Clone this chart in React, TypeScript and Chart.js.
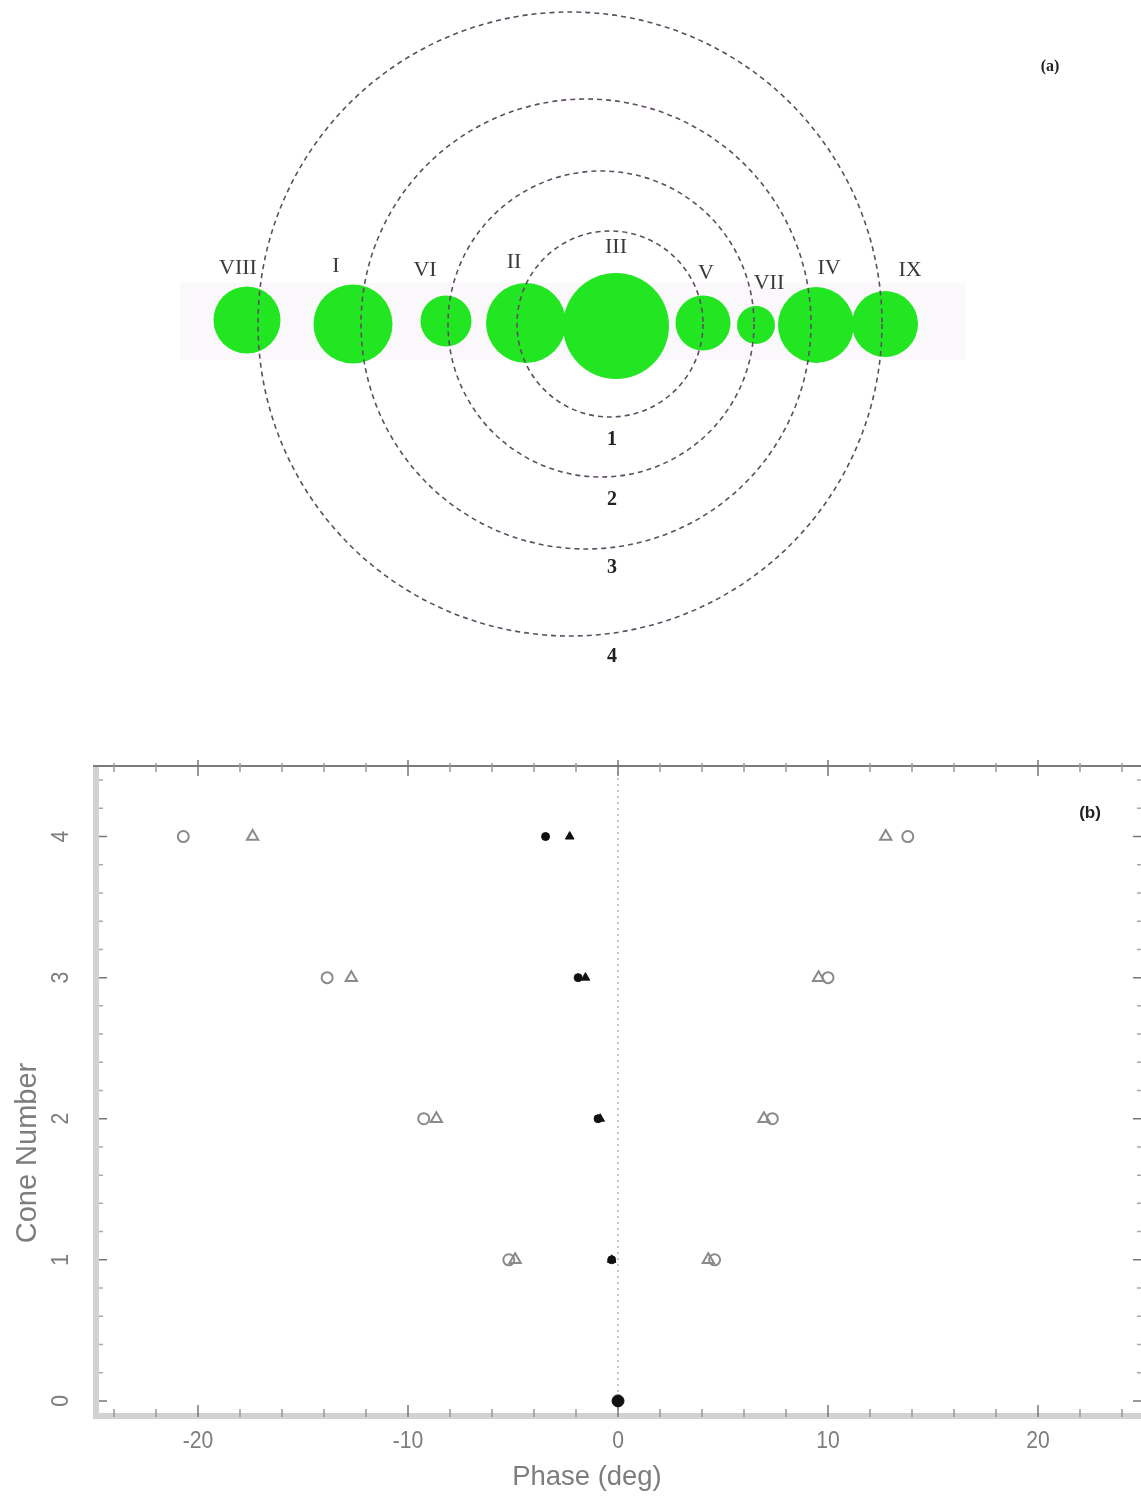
import React, { useEffect, useRef } from "react";
import { Chart, registerables } from "chart.js";

Chart.register(...registerables);

// ---------------- Panel (a): emission components and nested cones ----------------
// diagram units, origin at the core component
const componentNames = ["VIII", "I", "VI", "II", "III", "V", "VII", "IV", "IX"];
const componentPos = [-36.7, -26.1, -16.8, -8.8, 0.2, 8.9, 14.2, 20.2, 27.1];
const componentLevel = [0.4, 0.0, 0.3, 0.1, -0.2, 0.1, -0.1, -0.1, 0.0];
const componentSize = [3.35, 3.95, 2.55, 4.0, 5.3, 2.75, 1.9, 3.8, 3.3];
const componentLabelX = [-37.6, -27.8, -18.9, -10.0, 0.2, 9.2, 15.5, 21.5, 29.6];
const componentLabelY = [5.6, 5.8, 5.4, 6.2, 7.7, 5.1, 4.1, 5.6, 5.4];

const coneNames = ["1", "2", "3", "4"];
const coneCenter = [-0.4, -1.3, -2.8, -4.4];
const coneRadius = [9.3, 15.3, 22.5, 31.2];
const coneLabelX = [-0.2, -0.2, -0.2, -0.2];
const coneLabelY = [-11.6, -17.6, -24.4, -33.3];

const bandX = [-43.4, 35.1];
const bandY = [4.1, -3.6];

const A_XMIN = -61.4;
const A_XMAX = 52.7;
const A_YMIN = -37.6;
const A_YMAX = 32.4;
const A_W = 1141;
const A_H = 700;

// ---------------- Panel (b): phase vs cone number ----------------
const coneNumbers = [1, 2, 3, 4];
const leadCircle = [-5.2, -9.25, -13.85, -20.7];
const leadTriangle = [-4.9, -8.65, -12.7, -17.4];
const trailTriangle = [4.3, 6.95, 9.55, 12.75];
const trailCircle = [4.6, 7.35, 10.0, 13.8];
const midCircle = [-0.3, -0.95, -1.9, -3.45];
const midTriangle = [-0.3, -0.85, -1.55, -2.3];
const corePhase = [0];
const coreCone = [0];

const xTickValues = [-20, -10, 0, 10, 20];
const xTickLabels = ["-20", "-10", "0", "10", "20"];
const yTickValues = [0, 1, 2, 3, 4];
const yTickLabels = ["0", "1", "2", "3", "4"];

const SANS = "'Liberation Sans', 'DejaVu Sans', sans-serif";
const SERIF = "'Liberation Serif', 'DejaVu Serif', serif";

function drawText(
  ctx: CanvasRenderingContext2D,
  text: string,
  x: number,
  y: number,
  font: string,
  color: string,
  rot = 0,
  sx = 1
) {
  ctx.save();
  ctx.translate(x, y);
  if (rot) ctx.rotate(rot);
  ctx.scale(sx, 1);
  ctx.font = font;
  ctx.fillStyle = color;
  ctx.textAlign = "center";
  ctx.textBaseline = "middle";
  ctx.fillText(text, 0, 0);
  ctx.restore();
}

const panelAPlugin = {
  id: "panelA",
  beforeDatasetsDraw(chart: any) {
    const { ctx, scales } = chart;
    const x = scales.x, y = scales.y;
    ctx.save();
    ctx.fillStyle = "rgba(246,240,246,0.45)";
    const x0 = x.getPixelForValue(bandX[0]);
    const x1 = x.getPixelForValue(bandX[1]);
    const y0 = y.getPixelForValue(bandY[0]);
    const y1 = y.getPixelForValue(bandY[1]);
    ctx.fillRect(x0, y0, x1 - x0, y1 - y0);
    ctx.restore();
  },
  afterDatasetsDraw(chart: any) {
    const { ctx, scales } = chart;
    const x = scales.x, y = scales.y;
    ctx.save();
    ctx.setLineDash([5, 4]);
    ctx.strokeStyle = "#5e4e62";
    ctx.lineWidth = 1.6;
    coneRadius.forEach((r, i) => {
      const cx = x.getPixelForValue(coneCenter[i]);
      const cy = y.getPixelForValue(0);
      const rp = x.getPixelForValue(coneCenter[i] + r) - cx;
      ctx.beginPath();
      ctx.arc(cx, cy, rp, 0, Math.PI * 2);
      ctx.stroke();
    });
    ctx.restore();
    componentNames.forEach((n, i) => {
      drawText(
        ctx,
        n,
        x.getPixelForValue(componentLabelX[i]),
        y.getPixelForValue(componentLabelY[i]),
        `22px ${SERIF}`,
        "#3a3a3a"
      );
    });
    coneNames.forEach((n, i) => {
      drawText(
        ctx,
        n,
        x.getPixelForValue(coneLabelX[i]),
        y.getPixelForValue(coneLabelY[i]),
        `bold 20px ${SERIF}`,
        "#222"
      );
    });
    drawText(ctx, "(a)", 1050, 67, `bold 16px ${SERIF}`, "#222");
  },
};

const panelBPlugin = {
  id: "panelB",
  beforeDatasetsDraw(chart: any) {
    const { ctx, chartArea, scales } = chart;
    const x = scales.x, y = scales.y;
    const { left, right, top, bottom } = chartArea;
    ctx.save();
    ctx.setLineDash([2, 4]);
    ctx.strokeStyle = "#b5b5b5";
    ctx.lineWidth = 1.5;
    const x0 = x.getPixelForValue(0);
    ctx.beginPath();
    ctx.moveTo(x0, top);
    ctx.lineTo(x0, bottom);
    ctx.stroke();
    ctx.setLineDash([]);

    ctx.fillStyle = "#d2d2d2";
    ctx.fillRect(left, top, 6, bottom - top + 3);
    ctx.fillRect(left, bottom - 2, right - left, 6);
    ctx.strokeStyle = "#7c7c7c";
    ctx.lineWidth = 2;
    ctx.beginPath();
    ctx.moveTo(left, top);
    ctx.lineTo(right, top);
    ctx.moveTo(right, top);
    ctx.lineTo(right, bottom);
    ctx.stroke();

    ctx.lineWidth = 1.5;
    for (let v = -24; v <= 24; v += 2) {
      const major = v % 10 === 0;
      const px = x.getPixelForValue(v);
      ctx.strokeStyle = major ? "#777" : "#999";
      ctx.beginPath();
      ctx.moveTo(px, top - (major ? 6 : 3));
      ctx.lineTo(px, top + (major ? 10 : 6));
      ctx.moveTo(px, bottom - (major ? 10 : 6));
      ctx.lineTo(px, bottom + 2);
      ctx.stroke();
    }
    for (let k = 0; k <= 22; k++) {
      const v = k * 0.2;
      const major = k % 5 === 0;
      const py = y.getPixelForValue(v);
      ctx.strokeStyle = major ? "#777" : "#aaa";
      ctx.beginPath();
      ctx.moveTo(left + 6, py);
      ctx.lineTo(left + (major ? 14 : 10), py);
      ctx.moveTo(right, py);
      ctx.lineTo(right - (major ? 10 : 6), py);
      ctx.stroke();
    }
    ctx.restore();
  },
  afterDraw(chart: any) {
    const { ctx, chartArea, scales } = chart;
    const x = scales.x, y = scales.y;
    const grey = "#7d7d7d";
    xTickValues.forEach((v, i) => {
      drawText(ctx, xTickLabels[i], x.getPixelForValue(v), chartArea.bottom + 26, `24px ${SANS}`, grey, 0, 0.88);
    });
    yTickValues.forEach((v, i) => {
      drawText(ctx, yTickLabels[i], 61, y.getPixelForValue(v), `24px ${SANS}`, grey, -Math.PI / 2, 0.88);
    });
    drawText(ctx, "Phase (deg)", 587, chartArea.bottom + 62, `28px ${SANS}`, grey, 0, 0.98);
    drawText(ctx, "Cone Number", 28, chartArea.top + 387, `29px ${SANS}`, grey, -Math.PI / 2, 1.0);
    drawText(ctx, "(b)", 1090, chartArea.top + 47, `bold 17px ${SANS}`, "#222");
  },
};

export default function App() {
  const topRef = useRef<HTMLCanvasElement>(null);
  const botRef = useRef<HTMLCanvasElement>(null);

  useEffect(() => {
    const pxPerUnit = A_W / (A_XMAX - A_XMIN);
    const top = new Chart(topRef.current as HTMLCanvasElement, {
      type: "bubble",
      data: {
        datasets: [
          {
            label: "components",
            data: componentNames.map((_, i) => ({
              x: componentPos[i],
              y: componentLevel[i],
              r: componentSize[i] * pxPerUnit,
            })),
            backgroundColor: "#22e622",
            borderColor: "#22e622",
            borderWidth: 0,
          },
        ],
      },
      options: {
        animation: false,
        responsive: false,
        events: [],
        layout: { padding: 0, autoPadding: false } as any,
        plugins: { legend: { display: false }, tooltip: { enabled: false } },
        scales: {
          x: { type: "linear", display: false, min: A_XMIN, max: A_XMAX },
          y: { type: "linear", display: false, min: A_YMIN, max: A_YMAX },
        },
      },
      plugins: [panelAPlugin],
    });

    const open = (color: string) => ({
      borderColor: color,
      backgroundColor: "rgba(0,0,0,0)",
      borderWidth: 2,
    });
    const bot = new Chart(botRef.current as HTMLCanvasElement, {
      type: "scatter",
      data: {
        datasets: [
          { label: "leading circle", data: coneNumbers.map((c, i) => ({ x: leadCircle[i], y: c })), pointStyle: "circle", pointRadius: 5.5, ...open("#8a8a8a") },
          { label: "leading triangle", data: coneNumbers.map((c, i) => ({ x: leadTriangle[i], y: c })), pointStyle: "triangle", pointRadius: 6.5, ...open("#8a8a8a") },
          { label: "trailing triangle", data: coneNumbers.map((c, i) => ({ x: trailTriangle[i], y: c })), pointStyle: "triangle", pointRadius: 6.5, ...open("#8a8a8a") },
          { label: "trailing circle", data: coneNumbers.map((c, i) => ({ x: trailCircle[i], y: c })), pointStyle: "circle", pointRadius: 5.5, ...open("#8a8a8a") },
          { label: "centre circle", data: coneNumbers.map((c, i) => ({ x: midCircle[i], y: c })), pointStyle: "circle", pointRadius: 4, backgroundColor: "#111", borderColor: "#111", borderWidth: 1 },
          { label: "centre triangle", data: coneNumbers.map((c, i) => ({ x: midTriangle[i], y: c })), pointStyle: "triangle", pointRadius: 5, backgroundColor: "#111", borderColor: "#111", borderWidth: 1 },
          { label: "core", data: corePhase.map((p, i) => ({ x: p, y: coreCone[i] })), pointStyle: "circle", pointRadius: 6, backgroundColor: "#111", borderColor: "#111", borderWidth: 1 },
        ] as any,
      },
      options: {
        animation: false,
        responsive: false,
        events: [],
        layout: { padding: { left: 93, right: 17, top: 66, bottom: 81 }, autoPadding: false } as any,
        plugins: { legend: { display: false }, tooltip: { enabled: false } },
        scales: {
          x: { type: "linear", display: false, min: -25, max: 25 },
          y: { type: "linear", display: false, min: -0.1, max: 4.5 },
        },
      },
      plugins: [panelBPlugin],
    });

    return () => {
      top.destroy();
      bot.destroy();
    };
  }, []);

  return (
    <div
      style={{
        position: "absolute",
        left: 0,
        top: 0,
        width: A_W,
        height: 1496,
        overflow: "hidden",
        background: "#fff",
      }}
    >
      <canvas ref={topRef} width={A_W} height={A_H} style={{ position: "absolute", left: 0, top: 0 }} />
      <canvas ref={botRef} width={1160} height={796} style={{ position: "absolute", left: 0, top: A_H }} />
    </div>
  );
}
